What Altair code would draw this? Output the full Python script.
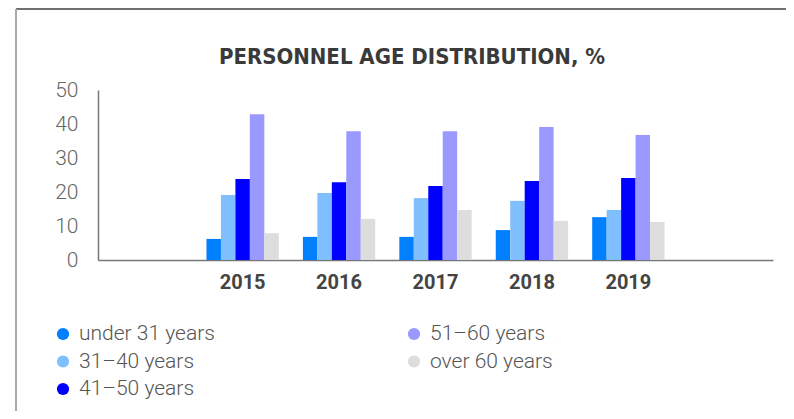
import altair as alt
import pandas as pd

title_text = "PERSONNEL AGE DISTRIBUTION, %"
years = ["2015", "2016", "2017", "2018", "2019"]
x_domain = ["", "2015", "2016", "2017", "2018", "2019", " "]
groups = ["under 31 years", "31–40 years", "41–50 years", "51–60 years", "over 60 years"]
colors = ["#0080FF", "#80BFFF", "#0000FF", "#9999FF", "#DDDDDD"]

under31 = [6.2, 6.8, 6.8, 8.8, 12.6]
age31_40 = [19.1, 19.7, 18.2, 17.4, 14.7]
age41_50 = [23.8, 22.9, 21.8, 23.2, 24.1]
age51_60 = [42.9, 37.9, 37.9, 39.1, 36.8]
over60 = [7.9, 12.1, 14.7, 11.5, 11.2]

series = [under31, age31_40, age41_50, age51_60, over60]
rows = []
for g, vals in zip(groups, series):
    for y, v in zip(years, vals):
        rows.append({"year": y, "group": g, "value": v})
df = pd.DataFrame(rows)

legend_df = pd.DataFrame({
    "group": groups,
    "col": [i // 3 for i in range(len(groups))],
    "row": [i % 3 for i in range(len(groups))],
})

color_scale = alt.Scale(domain=groups, range=colors)

bars = alt.Chart(df).mark_bar().encode(
    x=alt.X("year:N", scale=alt.Scale(domain=x_domain, paddingInner=0.25, paddingOuter=0.125),
            axis=alt.Axis(title=None, labelAngle=0, ticks=False, labelFont="Roboto",
                          labelFontSize=20, labelFontWeight="bold", labelColor="#444444",
                          labelPadding=12, domainColor="#777777", domainWidth=1.5)),
    xOffset=alt.XOffset("group:N", sort=groups, scale=alt.Scale(domain=groups, paddingInner=0, paddingOuter=0)),
    y=alt.Y("value:Q", scale=alt.Scale(domain=[0, 50]),
            axis=alt.Axis(title=None, values=[0, 10, 20, 30, 40, 50], ticks=False, grid=False,
                          labelFont="Roboto", labelFontSize=21, labelFontWeight=300,
                          labelColor="#666666", labelPadding=20,
                          domainColor="#777777", domainWidth=1.5)),
    color=alt.Color("group:N", scale=color_scale, legend=None),
)

leg_x = alt.X("col:Q", scale=alt.Scale(domain=[0, 1], range=[-35, 316]), axis=None)
leg_y = alt.Y("row:Q", scale=alt.Scale(domain=[0, 2], range=[244, 299]), axis=None)

leg_pts = alt.Chart(legend_df).mark_circle(size=150, opacity=1).encode(
    x=leg_x, y=leg_y,
    color=alt.Color("group:N", scale=color_scale, legend=None),
)
leg_txt = alt.Chart(legend_df).mark_text(
    align="left", baseline="middle", dx=16, font="Roboto", fontSize=21,
    fontWeight=300, color="#555555"
).encode(x=leg_x, y=leg_y, text="group:N")
legend = alt.layer(leg_pts, leg_txt)

frame_df = pd.DataFrame({"k": [0]})
top_line = alt.Chart(frame_df).mark_rule(color="#707070", strokeWidth=2).encode(
    x=alt.value(-82), x2=alt.value(700), y=alt.value(-81))
left_line = alt.Chart(frame_df).mark_rule(color="#A8A8A8", strokeWidth=2).encode(
    x=alt.value(-82), y=alt.value(-81), y2=alt.value(330))
title_mark = alt.Chart(frame_df).mark_text(
    align="center", baseline="alphabetic", font="DejaVu Sans Condensed",
    fontSize=22, fontWeight="bold", color="#3A3A3A"
).encode(x=alt.value(314), y=alt.value(-26), text=alt.value(title_text))

chart = alt.layer(bars, legend, top_line, left_line, title_mark).resolve_scale(
    x="independent", y="independent"
).properties(
    width=675, height=170,
    padding={"left": 90, "top": 82, "right": 13, "bottom": 151},
    autosize=alt.AutoSizeParams(type="none"),
).configure_view(stroke=None)

chart.save("out.html", embed_options={"renderer": "svg", "actions": False})
